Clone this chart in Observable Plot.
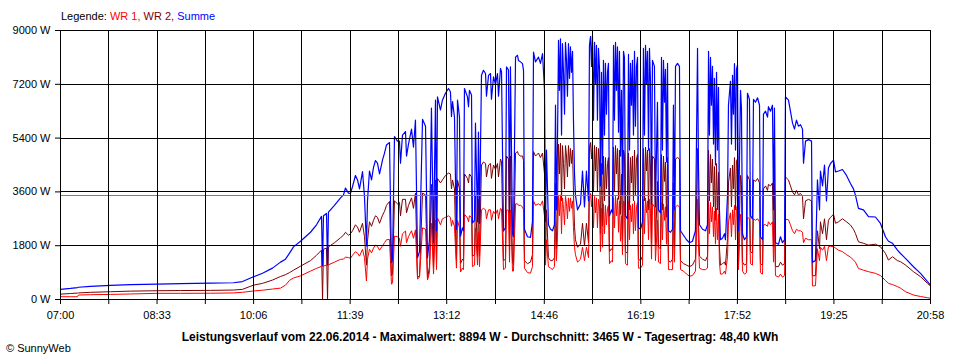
<!DOCTYPE html>
<html>
<head>
<meta charset="utf-8">
<script src="https://cdn.jsdelivr.net/npm/d3@7"></script>
<script src="https://cdn.jsdelivr.net/npm/@observablehq/plot@0.6"></script>
<style>
  html, body { margin: 0; padding: 0; background: #ffffff; }
  #wrap { position: relative; width: 960px; height: 360px; font-family: "Liberation Sans", Arial, sans-serif; color: #000; }
  #wrap svg { position: absolute; left: 0; top: 0; }
  #wrap svg line { shape-rendering: crispEdges; }
  .txt { position: absolute; font-size: 11px; white-space: nowrap; line-height: 13px; }
</style>
</head>
<body>
<div id="wrap"></div>
<script>
// ---- Texts ----
const legendLabel = "Legende:";
const seriesNames = ["WR 1", "WR 2", "Summe"];
const seriesColors = ["#ff0000", "#800000", "#0000ff"];
const titleText = "Leistungsverlauf vom 22.06.2014 - Maximalwert: 8894 W - Durchschnitt: 3465 W - Tagesertrag: 48,40 kWh";
const copyrightText = "© SunnyWeb";

// ---- Axes ----
const xTickLabels = ["07:00", "08:33", "10:06", "11:39", "13:12", "14:46", "16:19", "17:52", "19:25", "20:58"];
const yTickValues = [0, 1800, 3600, 5400, 7200, 9000];
const averageW = 3465;

// ---- Data: minutes after 07:00, power in W ----
const minutes = [
  0,9.6,16.4,17.3,28.9,48.2,67.4,93.4,115.6,144.5,
  166.6,175.3,185.9,194.6,204.2,211.9,216.7,220.6,224.4,231.2,
  240.8,246.6,251.4,252.4,253.3,256.2,257.2,258.1,263.9,269.7,
  274.5,277.4,281.3,286.1,290.9,292.8,294.7,295.7,297.6,301.5,
  305.3,310.2,314.0,316.9,318.8,319.8,321.7,324.6,327.5,329.4,
  332.3,335.2,338.1,341.9,343.9,345.8,348.7,351.6,353.5,355.4,
  357.3,359.3,361.2,362.2,363.1,366.0,367.9,370.8,373.7,375.6,
  376.6,377.6,379.5,380.5,381.4,382.4,384.3,385.3,387.2,388.2,
  389.1,392.0,393.0,393.9,395.9,396.8,398.8,399.7,401.7,402.6,
  403.6,405.5,407.4,409.4,410.3,412.3,414.2,415.1,417.1,419.0,
  420.9,421.9,423.8,424.8,426.7,428.6,429.6,431.5,432.5,433.4,
  435.4,436.3,438.3,440.2,441.1,443.1,445.0,446.0,446.9,449.8,
  452.7,454.6,455.6,457.5,460.4,462.3,464.3,466.2,467.2,468.1,
  470.0,472.0,473.9,475.8,476.8,477.7,479.7,481.6,482.6,483.5,
  484.5,486.4,487.4,489.3,491.2,492.2,494.1,496.0,498.0,500.9,
  502.8,504.7,506.6,508.6,509.5,510.5,511.5,512.4,514.4,516.3,
  518.2,519.2,520.1,521.1,522.1,523.0,524.9,526.9,527.8,528.8,
  530.7,531.7,532.7,534.6,536.5,538.4,539.4,540.4,541.3,542.3,
  543.2,544.2,546.1,547.1,549.0,550.9,551.9,552.9,554.8,555.8,
  556.7,558.7,560.6,561.5,563.5,565.4,567.3,568.3,569.3,570.2,
  572.1,573.1,575.0,576.0,577.9,578.9,580.8,582.7,584.7,585.6,
  587.6,589.5,590.4,591.4,592.4,594.3,596.2,597.2,600.1,603.0,
  605.9,608.7,611.6,613.6,614.5,615.5,618.4,621.3,623.2,624.2,
  626.1,627.0,628.0,629.9,630.9,631.9,633.8,634.7,635.7,637.6,
  639.6,640.5,642.5,643.4,645.3,647.3,649.2,651.1,652.1,653.0,
  655.0,655.9,656.9,658.8,660.8,661.7,663.6,664.6,666.5,667.5,
  669.4,671.4,673.3,674.2,676.2,677.1,679.1,681.0,681.9,683.9,
  685.8,686.8,687.7,688.7,691.6,693.5,695.4,697.4,698.3,701.2,
  703.1,705.1,707.0,708.9,710.8,712.8,714.7,715.7,717.6,720.5,
  723.4,724.3,727.2,729.1,731.1,732.0,734.0,735.9,737.8,739.7,
  741.7,744.6,746.5,749.4,753.2,757.1,760.9,763.8,765.7,768.6,
  773.4,778.3,785.0,789.8,794.6,797.5,801.4,806.2,809.1,813.9,
  821.6,828.4,835.1,838.0
];
const summe = [
  340,370,400,410,440,470,495,516,530,545,
  560,600,760,880,1050,1250,1350,1550,1760,1950,
  2250,2500,2780,1130,2800,2880,1160,2920,3150,3400,
  3730,3560,3780,4000,4280,3450,1790,3300,4300,4420,
  4560,4670,5170,5250,1230,1350,5450,5300,4560,5500,
  5620,5200,5700,6000,1400,1600,6030,5800,1400,2000,
  6400,1900,6670,2300,6780,6340,6670,6900,7060,6950,
  6120,6620,6100,3900,2340,6670,6100,2120,2400,2300,
  7060,6780,6450,7000,6840,2560,2650,5900,2600,5600,
  2550,7500,7670,7560,6800,7500,7560,6700,7450,7200,
  7560,6800,7730,7620,2290,2400,7780,7680,2900,7780,
  2200,2100,8110,8170,8000,7950,7890,7660,2350,2100,
  2080,2600,8280,7950,8110,7900,8230,7000,2600,5000,
  2500,2350,2300,2500,6500,3000,8670,8720,5500,8560,
  7600,8600,8000,8560,8450,7600,6000,3500,3000,3200,
  4300,3100,4300,3300,8500,8800,7800,8830,8600,8500,
  8400,7700,3800,7600,4200,8000,7900,7600,7900,2800,
  3000,2900,8500,8600,8450,8300,4800,7000,3500,8300,
  8100,2800,2700,8200,7900,8000,5500,8300,7800,8100,
  2400,2350,2600,8400,8500,8300,8400,7300,3200,8000,
  7800,3100,6600,3000,2900,8100,8000,7700,7900,2300,
  2250,2350,6500,3000,7800,7900,7800,2300,2150,2000,
  1900,1950,2300,8400,4500,2500,2350,2300,2500,8300,
  8100,6500,7800,7400,4500,7600,7100,3000,2000,2050,
  2200,2000,3500,6500,7300,7500,7890,7700,7850,2300,
  7000,6400,2200,2000,2100,6900,6700,2800,2700,6700,
  6600,6750,6500,2100,2000,6200,6300,6100,6450,6300,
  6500,3000,6400,1900,1850,2100,1900,2000,6780,6670,
  6300,5900,5700,6000,5800,5850,5700,4560,5300,5350,
  5300,1250,1300,4000,3000,4300,3800,4500,3300,4400,
  4550,4660,4270,4300,4350,4150,3880,3700,3490,3050,
  3000,2770,2760,2545,2100,1950,1880,1650,1540,1375,
  1096,875,595,484
];
const wr2 = [
  180,200,215,220,240,260,280,293,300,305,
  316,340,480,540,650,770,830,900,980,1115,
  1300,1480,1650,0,1680,1720,0,1760,1900,2065,
  2250,2150,2300,2420,2550,2100,1150,1950,2600,2650,
  2750,2820,3150,3280,790,850,3300,3200,2800,3350,
  3350,3150,3400,3560,730,800,3560,3500,700,1100,
  3850,1050,4000,1300,4050,3900,4000,4150,4230,4200,
  3700,4000,3700,2200,1300,4000,3700,1200,1350,1300,
  4200,4050,3900,4200,4100,1450,1500,3500,1450,3350,
  1450,4500,4600,4550,4100,4500,4550,4050,4500,4350,
  4550,4100,4700,4600,1300,1350,4800,4700,1650,4800,
  1250,1150,4900,4950,4850,4800,4800,4650,1300,1200,
  1250,1500,4950,4800,4900,4750,4900,4200,1450,3000,
  1400,1300,1300,1400,3900,1700,5200,5230,3300,5150,
  4550,5150,4800,5150,5050,4550,3600,2000,1750,1850,
  2550,1800,2550,1900,5100,5250,4700,5300,5150,5100,
  5050,4600,2200,4550,2450,4800,4750,4550,4750,1600,
  1700,1650,5100,5150,5050,5000,2850,4200,2000,5000,
  4850,1600,1550,4900,4750,4800,3300,5000,4700,4850,
  1350,1300,1450,5050,5100,5000,5050,4400,1850,4800,
  4700,1800,3950,1750,1700,4850,4800,4600,4750,1300,
  1250,1350,3900,1750,4700,4750,4700,1300,1200,1150,
  1100,1150,1350,5050,2650,1450,1350,1300,1450,5000,
  4850,3900,4700,4450,2650,4550,4250,1750,1150,1200,
  1250,1150,2050,3900,4400,4500,4750,4650,4700,1300,
  4150,3850,1250,1150,1200,4150,4000,1600,1550,4000,
  3950,4050,3900,1200,1150,3700,3800,3650,3850,3800,
  3900,1750,3850,1100,1100,1250,1150,1200,4100,4000,
  3800,3600,3500,3650,3500,3550,3450,2700,3300,3350,
  3300,790,800,2300,1700,2600,2200,2700,2000,2650,
  2750,2850,2550,2600,2700,2600,2490,2350,2210,1930,
  1880,1820,1850,1765,1543,1320,1430,1300,1266,1154,
  930,764,540,450
];
const wr1 = [
  93,93,93,150,160,170,185,206,206,210,
  220,240,285,310,350,380,480,640,720,790,
  950,1040,1110,1120,1120,1150,1150,1160,1250,1343,
  1420,1400,1480,1550,1680,1400,620,1350,1680,1720,
  1780,1800,2000,2010,510,560,2120,2100,1780,2200,
  2290,2100,2300,2330,680,750,2400,2350,650,900,
  2550,850,2650,1000,2730,2500,2700,2750,2800,2750,
  2450,2650,2450,1700,1050,2650,2400,920,1050,1000,
  2850,2730,2600,2800,2750,1100,1150,2400,1150,2250,
  1100,3000,3050,3000,2700,3000,3000,2650,2950,2850,
  3000,2700,3050,3020,1000,1050,3000,2980,1250,3000,
  950,950,3200,3200,3150,3150,3100,3000,1050,900,
  880,1100,3300,3150,3200,3150,3300,2800,1150,2000,
  1100,1050,1000,1100,2600,1300,3450,3500,2200,3400,
  3050,3450,3200,3400,3400,3050,2400,1500,1250,1350,
  1750,1300,1750,1400,3400,3550,3100,3530,3450,3400,
  3350,3100,1600,3050,1750,3200,3150,3050,3150,1200,
  1300,1250,3400,3450,3400,3300,1950,2800,1500,3300,
  3250,1200,1150,3300,3150,3200,2200,3300,3100,3250,
  1050,1050,1150,3350,3400,3300,3350,2900,1350,3200,
  3100,1300,2650,1250,1200,3250,3200,3100,3150,1000,
  1000,1000,2600,1250,3100,3150,3100,1000,950,850,
  780,800,950,3350,1850,1050,1000,1000,1050,3300,
  3250,2600,3100,2950,1850,3050,2850,1250,850,850,
  950,850,1450,2600,2900,3000,3150,3050,3150,1000,
  2850,2550,950,850,900,2750,2700,1200,1150,2700,
  2650,2700,2600,900,850,2500,2500,2450,2600,2500,
  2600,1250,2550,800,750,850,750,800,2680,2670,
  2500,2300,2200,2350,2300,2300,2250,1900,2050,2000,
  2000,455,460,1700,1300,1750,1650,1780,1300,1770,
  1780,1770,1720,1650,1600,1500,1420,1320,1250,1040,
  980,930,875,800,640,540,500,430,380,262,
  150,100,60,40
];

// ---- Additional fine readings in the busiest stretches ----
const minutesFine = [272.6,279.3,284.1,288.0,299.6,303.4,307.3,312.1,326.5,333.3,340.0,
  478.7,480.6,485.5,488.3,490.3,493.2,495.1, 513.4,515.3,517.2, 524.0,525.9,
  533.6,535.5,537.5, 548.1,550.0,553.8, 562.5,564.4,566.4, 579.8,581.8,583.7,
  625.1,629.0,632.8, 646.3,648.2,650.2];
const summeFine = [3500,3550,4150,3700,4000,4650,4200,4900,5300,4800,5100,
  5200,7000,6200,6800,7400,8300,4200, 6000,7200,6000, 5500,6200,
  6000,7000,5600, 5000,6500,5800, 5500,7200,5000, 5000,6600,4600,
  5500,5200,5000, 5200,6200,5000];
const wr2Fine = [2150,2200,2500,2250,2450,2800,2550,2950,3250,2900,3050,
  3100,4200,3700,4100,4450,5000,2450, 3600,4300,3600, 3300,3700,
  3600,4200,3350, 3000,3900,3500, 3300,4300,3000, 3000,3950,2750,
  3300,3100,3000, 3100,3700,3000];
const wr1Fine = [1350,1380,1600,1450,1560,1820,1650,1900,2050,1900,2050,
  2100,2800,2500,2700,2950,3300,1750, 2400,2900,2400, 2200,2500,
  2400,2800,2250, 2000,2600,2300, 2200,2900,2000, 2000,2650,1850,
  2200,2100,2000, 2100,2500,2000];

// ---- Build ----
const rows = [
  ...minutes.map((m, i) => ({minute: m, wr1: wr1[i], wr2: wr2[i], summe: summe[i]})),
  ...minutesFine.map((m, i) => ({minute: m, wr1: wr1Fine[i], wr2: wr2Fine[i], summe: summeFine[i]}))
].sort((a, b) => a.minute - b.minute);

const toMin = s => { const [h, m] = s.split(":").map(Number); return h * 60 + m - 420; };
const majorPos = xTickLabels.map(toMin);
const minorPos = majorPos.slice(1).map((p, i) => (p + majorPos[i]) / 2);
const allXTicks = [...majorPos, ...minorPos];
const labelOf = new Map(majorPos.map((p, i) => [p, xTickLabels[i]]));

const chart = Plot.plot({
  width: 960,
  height: 360,
  marginLeft: 60,
  marginRight: 30,
  marginTop: 30,
  marginBottom: 61,
  style: {background: "transparent", fontFamily: "'Liberation Sans', Arial, sans-serif", fontSize: "11px", color: "#000", overflow: "visible"},
  x: {domain: [majorPos[0], majorPos[majorPos.length - 1]], axis: null},
  y: {domain: [yTickValues[0], yTickValues[yTickValues.length - 1]], axis: null},
  marks: [
    Plot.line(rows, {x: "minute", y: "wr2", stroke: seriesColors[1], strokeWidth: 1}),
    Plot.line(rows, {x: "minute", y: "wr1", stroke: seriesColors[0], strokeWidth: 1}),
    Plot.line(rows, {x: "minute", y: "summe", stroke: seriesColors[2], strokeWidth: 1.2}),
    Plot.ruleY(yTickValues, {stroke: "#000", strokeWidth: 1}),
    Plot.ruleY([averageW], {stroke: "#808080", strokeWidth: 1}),
    Plot.ruleX(allXTicks, {stroke: "#000", strokeWidth: 1}),
    Plot.axisY(yTickValues, {anchor: "left", label: null, tickSize: 5, tickPadding: 5, tickFormat: d => `${d} W`, stroke: "#000", fill: "#000"}),
    Plot.axisX(allXTicks, {anchor: "bottom", label: null, tickSize: 5, tickPadding: 7, tickFormat: d => labelOf.get(d) ?? "", stroke: "#000", fill: "#000"})
  ]
});

const wrap = document.getElementById("wrap");
wrap.appendChild(chart);

const legend = document.createElement("div");
legend.className = "txt";
legend.style.left = "61px";
legend.style.top = "10px";
legend.append(legendLabel + " ");
seriesNames.forEach((n, i) => {
  const s = document.createElement("span");
  s.style.color = seriesColors[i];
  s.textContent = n + (i < seriesNames.length - 1 ? ", " : "");
  legend.appendChild(s);
});
wrap.appendChild(legend);

const title = document.createElement("div");
title.className = "txt";
title.style.left = "0px";
title.style.width = "960px";
title.style.textAlign = "center";
title.style.top = "331px";
title.style.fontSize = "12px";
title.style.fontWeight = "bold";
title.textContent = titleText;
wrap.appendChild(title);

const copy = document.createElement("div");
copy.className = "txt";
copy.style.left = "6px";
copy.style.top = "342px";
copy.textContent = copyrightText;
wrap.appendChild(copy);
</script>
</body>
</html>
